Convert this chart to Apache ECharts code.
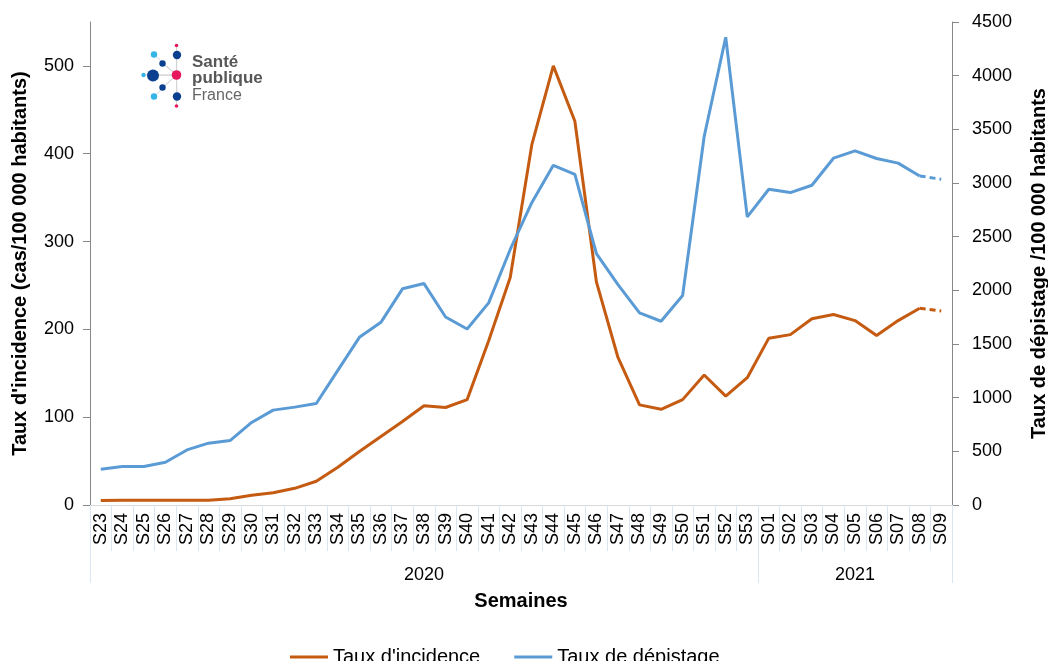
<!DOCTYPE html>
<html>
<head>
<meta charset="utf-8">
<title>Taux d'incidence et de dépistage</title>
<script src="https://cdn.jsdelivr.net/npm/echarts@6/dist/echarts.min.js"></script>
<style>
  html, body { margin: 0; padding: 0; background: #fff; }
  #chart { width: 1048px; height: 661px; }
</style>
</head>
<body>
<div id="chart"></div>
<script>
// semaines S23 2020 -> S09 2021
const weeks = ['S23', 'S24', 'S25', 'S26', 'S27', 'S28', 'S29', 'S30', 'S31', 'S32', 'S33',
  'S34', 'S35', 'S36', 'S37', 'S38', 'S39', 'S40', 'S41', 'S42', 'S43',
  'S44', 'S45', 'S46', 'S47', 'S48', 'S49', 'S50', 'S51', 'S52', 'S53',
  'S01', 'S02', 'S03', 'S04', 'S05', 'S06', 'S07', 'S08', 'S09'];

// années : libellé et indice de la première semaine
const years = ['2020', '2021'];
const yearStart = [0, 31];

// taux d'incidence (cas/100 000 habitants)
const incidence = [5, 5.5, 5.5, 5.5, 5.5, 5.5, 7, 11, 14, 19, 27,
  43, 61, 78, 95, 113, 111, 120, 187, 259, 410,
  500, 437, 254, 168, 114, 109, 120, 148, 124, 145,
  190, 194, 212, 217, 210, 193, 210, 224, 221];

// taux de dépistage (/100 000 habitants)
const depistage = [333, 358, 358, 398, 513, 576, 600, 769, 884, 912, 946,
  1254, 1562, 1702, 2014, 2063, 1752, 1640, 1883, 2381, 2817,
  3165, 3081, 2341, 2054, 1790, 1712, 1952, 3433, 4358, 2684,
  2942, 2911, 2979, 3231, 3300, 3228, 3185, 3066, 3035];

const FONT = 'Liberation Sans, Arial, sans-serif';
const ORANGE = '#C55A11';
const BLUE = '#5B9BD5';
const SEP = '#dbe6f3';

// libellé d'année placé au milieu de son groupe de semaines
const yearLabels = weeks.map(() => '');
years.forEach((y, k) => {
  const end = k + 1 < yearStart.length ? yearStart[k + 1] : weeks.length;
  yearLabels[Math.floor((yearStart[k] + end - 1) / 2)] = y;
});

// la dernière semaine (provisoire) est tracée en pointillés
const last = weeks.length - 1;
const solid = arr => arr.map((v, i) => (i < last ? v : null));
const dashed = arr => arr.map((v, i) => (i >= last - 1 ? v : null));

function lineSeries(name, data, color, yIdx, type) {
  return {
    name: name,
    type: 'line',
    yAxisIndex: yIdx,
    data: data,
    symbol: 'none',
    connectNulls: false,
    lineStyle: { color: color, width: 3, type: type },
    itemStyle: { color: color }
  };
}

// logo Santé publique France
const dots = [
  { x: 176.5, y: 45.5, r: 1.8, c: '#e6175c' },
  { x: 177, y: 55, r: 4.2, c: '#0b3f8f' },
  { x: 154, y: 54.5, r: 3.2, c: '#35b4e6' },
  { x: 162.5, y: 63.5, r: 3.2, c: '#0b3f8f' },
  { x: 143.5, y: 75, r: 2.2, c: '#35b4e6' },
  { x: 153, y: 75.5, r: 6, c: '#0b3f8f' },
  { x: 162.5, y: 87.5, r: 3.2, c: '#0b3f8f' },
  { x: 154, y: 96.5, r: 3.2, c: '#35b4e6' },
  { x: 177, y: 96.5, r: 4.2, c: '#0b3f8f' },
  { x: 176.5, y: 106, r: 1.8, c: '#e6175c' }
];
const logo = [];
dots.forEach(d => {
  logo.push({ type: 'line', shape: { x1: 176.5, y1: 75, x2: d.x, y2: d.y },
    style: { stroke: '#d5d5d5', lineWidth: 1 }, z: 1 });
});
dots.forEach(d => {
  logo.push({ type: 'circle', shape: { cx: d.x, cy: d.y, r: d.r }, style: { fill: d.c }, z: 2 });
});
logo.push({ type: 'circle', shape: { cx: 176.5, cy: 75, r: 4.8 }, style: { fill: '#e6175c' }, z: 2 });
logo.push({ type: 'text', left: 192, top: 54, style: { text: 'Santé', font: 'bold 17px ' + FONT, fill: '#575757' } });
logo.push({ type: 'text', left: 192, top: 70, style: { text: 'publique', font: 'bold 17px ' + FONT, fill: '#575757' } });
logo.push({ type: 'text', left: 192, top: 88, style: { text: 'France', font: '16px ' + FONT, fill: '#666' } });

const chart = echarts.init(document.getElementById('chart'));
chart.setOption({
  animation: false,
  textStyle: { fontFamily: FONT },
  grid: { left: 90, right: 96, top: 22, bottom: 156, containLabel: false, outerBoundsMode: 'none' },
  legend: {
    top: 642,
    left: 285,
    data: ["Taux d'incidence", 'Taux de dépistage'],
    icon: 'rect',
    itemWidth: 38,
    itemHeight: 3,
    itemGap: 34,
    textStyle: { fontSize: 20, color: '#000', fontFamily: FONT }
  },
  graphic: logo,
  xAxis: [
    {
      type: 'category',
      data: weeks,
      position: 'bottom',
      boundaryGap: true,
      axisLine: { lineStyle: { color: '#d9d9d9', width: 1 } },
      axisTick: { show: true, interval: 0, length: 46, lineStyle: { color: SEP } },
      axisLabel: { interval: 0, rotate: 90, margin: 8, fontSize: 18, color: '#000', fontFamily: FONT },
      splitLine: { show: false }
    },
    {
      type: 'category',
      data: yearLabels,
      position: 'bottom',
      boundaryGap: true,
      axisLine: { show: false },
      axisTick: {
        show: true,
        interval: i => yearStart.indexOf(i) >= 0,
        length: 78,
        lineStyle: { color: SEP }
      },
      axisLabel: { interval: 0, margin: 61, fontSize: 18, color: '#000', fontFamily: FONT },
      splitLine: { show: false },
      name: 'Semaines',
      nameLocation: 'middle',
      nameGap: 86,
      nameTextStyle: { fontSize: 20, fontWeight: 'bold', color: '#000', fontFamily: FONT }
    }
  ],
  yAxis: [
    {
      type: 'value',
      position: 'left',
      min: 0,
      max: 550,
      interval: 100,
      name: "Taux d'incidence (cas/100 000 habitants)",
      nameLocation: 'middle',
      nameRotate: 90,
      nameGap: 60,
      nameTextStyle: { fontSize: 20, fontWeight: 'bold', color: '#000', fontFamily: FONT },
      axisLine: { show: true, lineStyle: { color: '#888' } },
      axisTick: { show: true, length: 7, lineStyle: { color: '#888' } },
      axisLabel: { showMaxLabel: false, margin: 16, fontSize: 18, color: '#000', fontFamily: FONT },
      splitLine: { show: false }
    },
    {
      type: 'value',
      position: 'right',
      min: 0,
      max: 4500,
      interval: 500,
      name: 'Taux de dépistage /100 000 habitants',
      nameLocation: 'middle',
      nameRotate: 90,
      nameGap: 77,
      nameTextStyle: { fontSize: 20, fontWeight: 'bold', color: '#000', fontFamily: FONT },
      axisLine: { show: true, lineStyle: { color: '#888' } },
      axisTick: { show: true, length: 7, lineStyle: { color: '#888' } },
      axisLabel: { margin: 20, fontSize: 18, color: '#000', fontFamily: FONT, formatter: v => String(v) },
      splitLine: { show: false }
    }
  ],
  series: [
    lineSeries("Taux d'incidence", solid(incidence), ORANGE, 0, 'solid'),
    lineSeries('Taux de dépistage', solid(depistage), BLUE, 1, 'solid'),
    lineSeries('incidence provisoire', dashed(incidence), ORANGE, 0, [6, 4]),
    lineSeries('dépistage provisoire', dashed(depistage), BLUE, 1, [6, 4])
  ]
});
</script>
</body>
</html>
